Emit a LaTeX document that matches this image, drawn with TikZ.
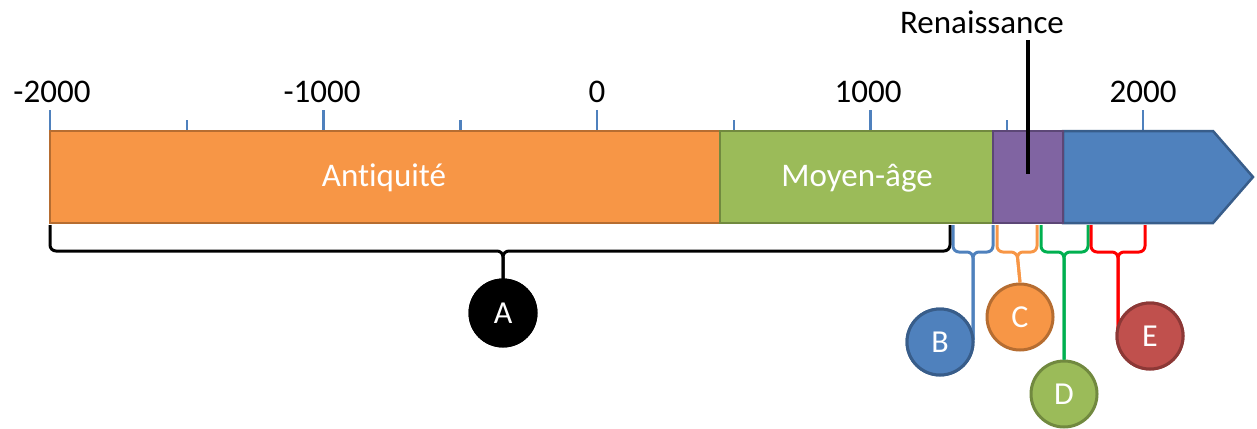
\documentclass[tikz,border=0pt]{standalone}
\usepackage{fontspec}
\setmainfont[Ligatures=NoCommon]{Carlito}
\definecolor{orF}{HTML}{F79646}\definecolor{orD}{HTML}{B66D31}
\definecolor{grF}{HTML}{9BBB59}\definecolor{grD}{HTML}{71893F}
\definecolor{puF}{HTML}{8064A2}\definecolor{puD}{HTML}{5C4776}
\definecolor{blF}{HTML}{4F81BD}\definecolor{blD}{HTML}{385D8A}
\definecolor{reF}{HTML}{C0504D}\definecolor{reD}{HTML}{8C3836}
\definecolor{brG}{HTML}{00B050}\definecolor{brR}{HTML}{FF0000}
\tikzset{
  seg/.style={line width=2.5pt, line join=miter},
  majtick/.style={blF, line width=2.5pt},
  lab/.style={font=\fontsize{33}{38}\selectfont, text=black, inner sep=0pt},
  seglab/.style={font=\fontsize{33}{38}\selectfont, text=white, inner sep=0pt},
  circ/.style={circle, minimum size=66pt, inner sep=0pt, line width=3pt, text=white, font=\fontsize{32}{36}\selectfont},
  brace/.style={line width=3pt, rounded corners=6pt},
}
\begin{document}
\begin{tikzpicture}[x=1pt,y=-1pt]
\useasboundingbox (0,0) rectangle (1257,428);
% ticks
\foreach \x in {50,323.5,597,870.5,1143}{\draw[majtick] (\x,110) -- (\x,130);}
\foreach \x in {187,460.5,734,1007}{\draw[majtick] (\x,120) -- (\x,130);}
\node[lab] (tm2000) at (52,92) {-2000};
\node[lab] (tm1000) at (322,92) {-1000};
\node[lab] (t0) at (597,92) {0};
\node[lab] (t1000) at (868,92) {1000};
\node[lab] (t2000) at (1143,92) {2000};
% bar segments
\draw[seg, draw=orD, fill=orF] (50,131) rectangle (720,223);
\draw[seg, draw=grD, fill=grF] (720,131) rectangle (993,223);
\draw[seg, draw=blD, fill=blF] (1063,131) -- (1213,131) -- (1253,177) -- (1213,223) -- (1063,223) -- cycle;
\draw[seg, draw=puD, fill=puF] (993,131) rectangle (1063,223);
\node[seglab] (ant) at (384,178) {Antiquité};
\node[seglab] (moy) at (857,178) {Moyen-âge};
% Renaissance
\node[lab] (ren) at (982,22) {Renaissance};
\coordinate (rtop) at (1028,40);
\coordinate (rbot) at (1028,174);
\draw[line width=3.5pt] (rtop) -- (rbot);
% circles
\node[circ, draw=black, fill=black] (A) at (503,313) {A};
\node[circ, draw=blD, fill=blF] (B) at (940,342) {B};
\node[circ, draw=orD, fill=orF] (C) at (1020,317) {C};
\node[circ, draw=grD, fill=grF] (D) at (1064,394) {D};
\node[circ, draw=reD, fill=reF] (E) at (1150,336) {E};
% braces
\draw[brace, black] (50,225) -- (50,251) -- (503,251) -- (503,281);
\draw[brace, black] (950,225) -- (950,251) -- (503,251) -- (503,281);
\draw[brace, blF] (953,225) -- (953,252) -- (973,252) -- (973,340);
\draw[brace, blF] (993,225) -- (993,252) -- (973,252) -- (973,340);
\draw[brace, orF] (997,225) -- (997,252) -- (1017,252) -- (C.north);
\draw[brace, orF] (1037,225) -- (1037,252) -- (1017,252) -- (C.north);
\draw[brace, brG] (1041,225) -- (1041,252) -- (1064,252) -- (D.north);
\draw[brace, brG] (1088,225) -- (1088,252) -- (1064,252) -- (D.north);
\draw[brace, brR] (1091,225) -- (1091,252) -- (1118,252) -- (1118,340);
\draw[brace, brR] (1145,225) -- (1145,252) -- (1118,252) -- (1118,340);
% circles drawn again over the brace stems
\node[circ, draw=black, fill=black] (A2) at (A) {A};
\node[circ, draw=blD, fill=blF] (B2) at (B) {B};
\node[circ, draw=reD, fill=reF] (E2) at (E) {E};
\end{tikzpicture}
\end{document}
